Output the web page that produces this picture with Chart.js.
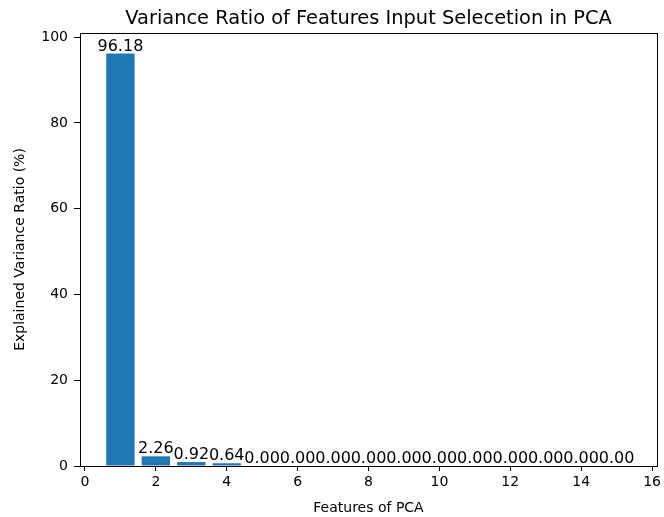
<!DOCTYPE html>
<html>
<head>
<meta charset="utf-8">
<script src="https://cdn.jsdelivr.net/npm/chart.js@4"></script>
<style>
  html, body { margin: 0; padding: 0; background: #fff; }
  #wrap { width: 664px; height: 517px; }
</style>
</head>
<body>
<div id="wrap"><canvas id="c" width="664" height="517"></canvas></div>
<script>
// Principal components (1..15) and their explained variance ratio in percent
const components = [1, 2, 3, 4, 5, 6, 7, 8, 9, 10, 11, 12, 13, 14, 15];
const varianceRatio = [96.18, 2.26, 0.92, 0.64, 0.00, 0.00, 0.00, 0.00, 0.00, 0.00, 0.00, 0.00, 0.00, 0.00, 0.00];
const xTicks = [0, 2, 4, 6, 8, 10, 12, 14, 16];
const yTicks = [0, 20, 40, 60, 80, 100];
const chartTitle = 'Variance Ratio of Features Input Selecetion in PCA';

const FONT = "'DejaVu Sans', sans-serif";

// Value labels sitting on top of each bar
const barLabels = {
  id: 'barLabels',
  afterDatasetsDraw(chart) {
    const ctx = chart.ctx;
    const meta = chart.getDatasetMeta(0);
    ctx.save();
    ctx.font = '16px ' + FONT;
    ctx.fillStyle = '#000';
    ctx.textAlign = 'center';
    ctx.textBaseline = 'bottom';
    meta.data.forEach((bar, i) => {
      ctx.fillText(varianceRatio[i].toFixed(2), bar.x, bar.y + 1);
    });
    ctx.restore();
  }
};

// Frame around the plot area and the title centred over it
const frame = {
  id: 'frame',
  afterDraw(chart) {
    const { left, right, top, bottom } = chart.chartArea;
    const ctx = chart.ctx;
    ctx.save();
    ctx.strokeStyle = '#000';
    ctx.lineWidth = 1;
    ctx.strokeRect(Math.round(left) + 0.5, Math.round(top) + 0.5,
                   Math.round(right - left), Math.round(bottom - top));
    ctx.font = '19.4px ' + FONT;
    ctx.fillStyle = '#000';
    ctx.textAlign = 'center';
    ctx.textBaseline = 'alphabetic';
    ctx.fillText(chartTitle, (left + right) / 2, top - 9);
    ctx.restore();
  }
};

new Chart(document.getElementById('c'), {
  type: 'bar',
  data: {
    datasets: [{
      data: components.map((x, i) => ({ x: x, y: varianceRatio[i] })),
      backgroundColor: '#1f77b4',
      borderColor: '#1f77b4',
      borderWidth: 0,
      inflateAmount: 0,
      categoryPercentage: 1.0,
      barPercentage: 0.8
    }]
  },
  options: {
    responsive: false,
    animation: false,
    devicePixelRatio: 1,
    layout: { padding: { left: 0, right: 7, top: 33, bottom: 0 } },
    plugins: {
      legend: { display: false },
      tooltip: { enabled: false },
      title: { display: false }
    },
    scales: {
      x: {
        type: 'linear',
        min: -0.14,
        max: 16.14,
        afterBuildTicks(scale) { scale.ticks = xTicks.map(v => ({ value: v })); },
        afterFit(scale) { scale.height = 51; },
        offset: false,
        grid: { display: true, offset: false, drawOnChartArea: false, drawTicks: true, tickLength: 5, color: '#000' },
        border: { display: true, color: '#000' },
        ticks: { color: '#000', font: { family: FONT, size: 14 }, padding: 3, maxRotation: 0 },
        title: {
          display: true,
          text: 'Features of PCA',
          color: '#000',
          font: { family: FONT, size: 14 },
          padding: 0
        }
      },
      y: {
        min: 0,
        max: 100.99,
        afterBuildTicks(scale) { scale.ticks = yTicks.map(v => ({ value: v })); },
        afterFit(scale) { scale.width = 80; },
        grid: { display: true, drawOnChartArea: false, drawTicks: true, tickLength: 6, color: '#000' },
        border: { display: true, color: '#000' },
        ticks: { color: '#000', font: { family: FONT, size: 14 }, padding: 6 },
        title: {
          display: true,
          text: 'Explained Variance Ratio (%)',
          color: '#000',
          font: { family: FONT, size: 14 },
          padding: { top: 12, bottom: 0 }
        }
      }
    }
  },
  plugins: [barLabels, frame]
});
</script>
</body>
</html>
